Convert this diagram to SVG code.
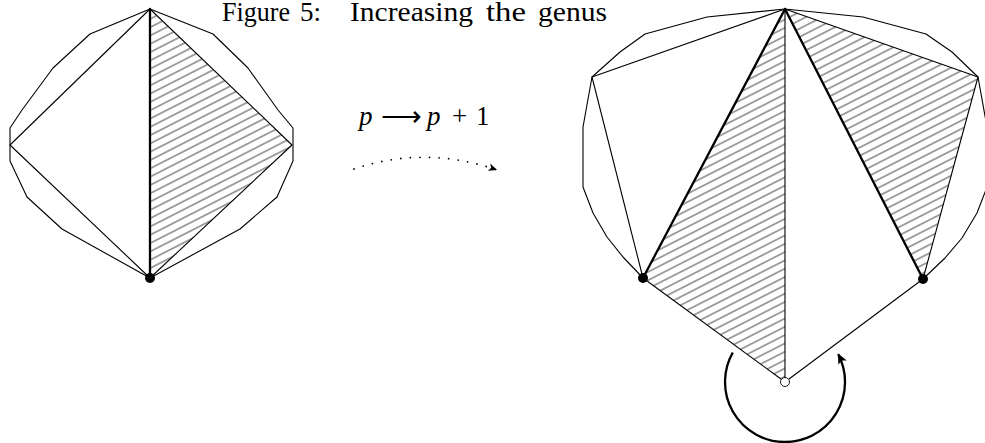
<svg xmlns="http://www.w3.org/2000/svg" width="985" height="443" viewBox="0 0 985 443">
<style>
.thin{fill:none;stroke:#000;stroke-width:1.1;stroke-linejoin:round}
.thick{fill:none;stroke:#000;stroke-width:2.3;stroke-linecap:round}
.hatch{fill:url(#hatch);stroke:none}
.dot{fill:#000}
.title{font-family:"Liberation Serif",serif;font-size:27px;fill:#000}
.math{font-family:"Liberation Serif",serif;font-size:27px;fill:#000}
.mi{font-style:italic}
</style>
<defs>
<pattern id="hatch" patternUnits="userSpaceOnUse" width="40" height="7.4" patternTransform="rotate(-27)">
<line x1="0" y1="3.7" x2="40" y2="3.7" stroke="#3a3a3a" stroke-width="1.15"/>
</pattern>
<marker id="ah" markerWidth="12" markerHeight="12" refX="0" refY="0" viewBox="-8 -5 10 10" orient="auto" markerUnits="userSpaceOnUse">
<path d="M0,0 L-7,-3.2 L-5.2,0 L-7,3.2 Z" fill="#000"/>
</marker>
<marker id="ah2" markerWidth="14" markerHeight="14" refX="0" refY="0" viewBox="-9 -6 11 12" orient="auto" markerUnits="userSpaceOnUse">
<path d="M1,0 L-8,-4 L-6,0 L-8,4 Z" fill="#000"/>
</marker>
</defs>

<g id="title">
<text class="title" y="20.5"><tspan x="222" textLength="68" lengthAdjust="spacingAndGlyphs">Figure</tspan><tspan x="300">5:</tspan><tspan x="350" textLength="123" lengthAdjust="spacingAndGlyphs">Increasing</tspan><tspan x="486" textLength="40" lengthAdjust="spacingAndGlyphs">the</tspan><tspan x="538" textLength="69" lengthAdjust="spacingAndGlyphs">genus</tspan></text>
</g>

<g id="left-figure">
<polygon class="hatch" points="150,10 292,145 150,278"/>
<polygon class="thin" points="150,9 213,34 248,68 278,110 293,128 293,161 277,197 240,229 150,278 62,229 27,197 10,161 10,128 22,110 53,68 90,34"/>
<polygon class="thin" points="150,9 10,145 150,278 292,145"/>
<line class="thick" x1="150" y1="9" x2="150" y2="278"/>
</g>
<g id="left-vertex"><circle class="dot" cx="150" cy="278" r="5"/></g>

<g id="transition">
<text class="math mi" x="359" y="125">p</text>
<text class="math" x="381" y="125" font-family="DejaVu Sans, sans-serif" font-size="24" textLength="41" lengthAdjust="spacingAndGlyphs">⟶</text>
<text class="math mi" x="427" y="125">p</text>
<text class="math" x="452" y="125" font-size="30">+</text>
<text class="math" x="476" y="125">1</text>
</g>

<g id="connectors">
<path d="M354,169 Q425,145 497,170" fill="none" stroke="#000" stroke-width="1.8" stroke-linecap="round" stroke-dasharray="0 9.6" marker-end="url(#ah)"/>
<path d="M732.8,352.5 A60,60 0 1 0 838.3,354.4" fill="none" stroke="#000" stroke-width="2.3" marker-end="url(#ah2)"/>
</g>

<g id="right-figure">
<polygon class="hatch" points="643,278 785,9 785,382"/>
<polygon class="hatch" points="785,9 978,77 923,279"/>
<polyline class="thin" points="643,278 623,257 607,237 593,213 583,187 583,127 592,77 620,52 645,34 707,17 785,9 863,17 926,34 952,52 978,77 987,127 987,187 977,213 962,238 945,258 923,279"/>
<polyline class="thin" points="785,9 592,77 643,278"/>
<polyline class="thin" points="785,9 978,77 923,279"/>
<line class="thin" x1="785" y1="9" x2="785" y2="378" stroke-width="1.3"/>
<polyline class="thin" points="643,278 781,379"/>
<polyline class="thin" points="923,279 789,379"/>
<line class="thick" x1="785" y1="9" x2="643" y2="278"/>
<line class="thick" x1="785" y1="9" x2="923" y2="279"/>
</g>
<g id="right-left-vertex"><circle class="dot" cx="643" cy="278" r="5"/></g>
<g id="right-right-vertex"><circle class="dot" cx="923" cy="279" r="5"/></g>
<g id="bottom-vertex"><circle cx="785" cy="382" r="4.5" fill="#fff" stroke="#000" stroke-width="0.9"/></g>
</svg>
